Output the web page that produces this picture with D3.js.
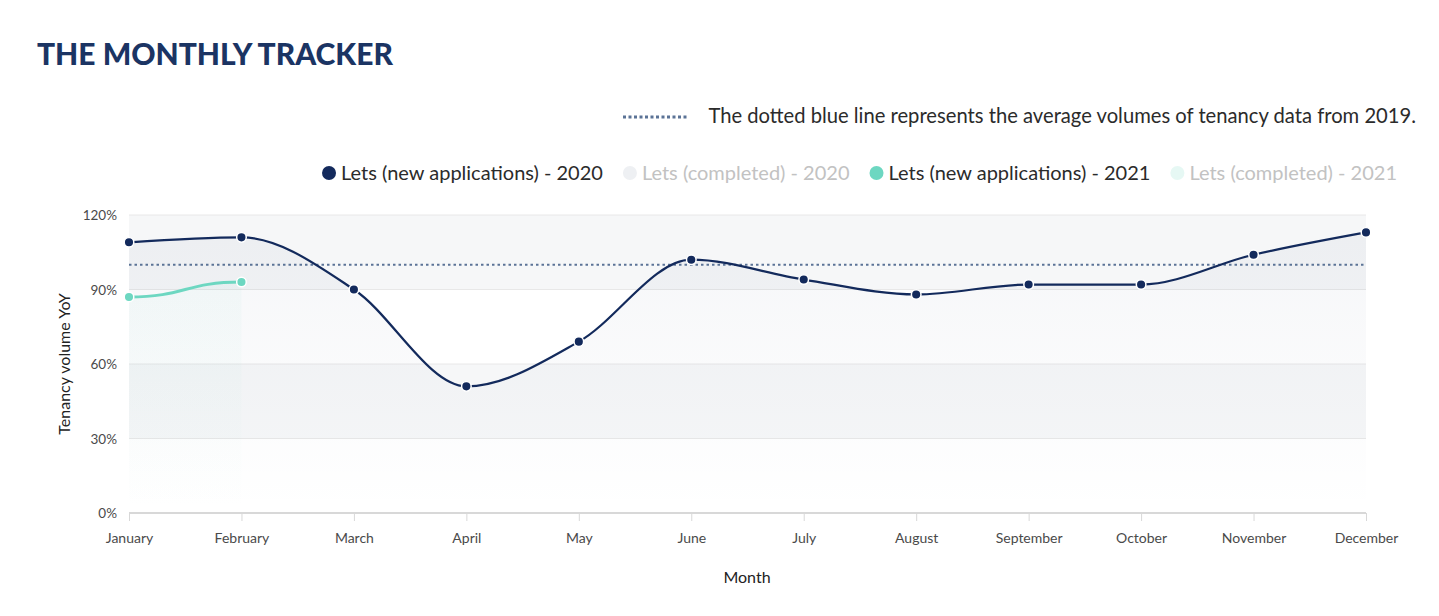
<!DOCTYPE html>
<head>
    <title>The Monthly Tracker</title>
    <script src="https://d3js.org/d3.v7.min.js" charset="utf-8"></script>
    <style>
    body{
        margin:0;
        background:#fff;
        font-family: Lato, "Open Sans", sans-serif;
    }
    text.tick-label { font-size: 14px; fill: #4a4a4a; }
    </style>
</head>
<body>
<svg id="chart" width="1439" height="616"></svg>

<script>
    // data
    var months = ["January","February","March","April","May","June","July","August","September","October","November","December"];
    var lets2020 = [109,111,90,51,69,102,94,88,92,92,104,113];
    var lets2021 = [87,93];
    var average2019 = 100;
    var yTicks = [0,30,60,90,120];
    var legendNames = ["Lets (new applications) - 2020","Lets (completed) - 2020","Lets (new applications) - 2021","Lets (completed) - 2021"];
    var legendShown = [true,false,true,false];

    var navy = "#132a5c";
    var teal = "#6dd7c1";

    var svg = d3.select("#chart");
    var plotLeft = 129, plotRight = 1366, plotTop = 215, plotBottom = 513;

    var xScale = d3.scalePoint()
        .domain(months)
        .range([plotLeft,plotRight]);

    var yScale = d3.scaleLinear()
        .domain([0,120])
        .range([plotBottom,plotTop]);

    // title
    svg.append("text")
        .attr("x",37).attr("y",65)
        .style("font-size","30px").style("font-weight","900")
        .style("fill","#1b3463")
        .text("THE MONTHLY TRACKER");

    // alternate bands
    for(var i=0;i<yTicks.length-1;i++){
        if(i%2==1){
            svg.append("rect")
            .attr("x",plotLeft).attr("width",plotRight-plotLeft)
            .attr("y",yScale(yTicks[i+1]))
            .attr("height",yScale(yTicks[i])-yScale(yTicks[i+1]))
            .style("fill","#f6f7f8");
        }
    }

    // grid
    yTicks.forEach(function(t){
        if(t==0) return;
        svg.append("line")
        .attr("x1",plotLeft).attr("x2",plotRight)
        .attr("y1",yScale(t)).attr("y2",yScale(t))
        .style("stroke","#e8e8e8").style("stroke-width",1);
    });

    // gradients for areas
    var defs = svg.append("defs");
    function grad(id,color,op){
        var g = defs.append("linearGradient").attr("id",id)
            .attr("x1",0).attr("y1",0).attr("x2",0).attr("y2",1);
        g.append("stop").attr("offset","0%").attr("stop-color",color).attr("stop-opacity",op);
        g.append("stop").attr("offset","100%").attr("stop-color",color).attr("stop-opacity",0);
    }
    grad("g2020",navy,0.04);
    grad("g2021",teal,0.05);

    var area = d3.area()
        .x(function(d,i){return xScale(months[i]);})
        .y0(yScale(0))
        .y1(function(d){return yScale(d);})
        .curve(d3.curveMonotoneX);

    var line = d3.line()
        .x(function(d,i){return xScale(months[i]);})
        .y(function(d){return yScale(d);})
        .curve(d3.curveMonotoneX);

    // two points only: use bump curve for a soft S shape
    var line2021 = d3.line()
        .x(function(d,i){return xScale(months[i]);})
        .y(function(d){return yScale(d);})
        .curve(d3.curveBumpX);
    var area2021 = d3.area()
        .x(function(d,i){return xScale(months[i]);})
        .y0(yScale(0))
        .y1(function(d){return yScale(d);})
        .curve(d3.curveBumpX);

    svg.append("path").datum(lets2021).attr("d",area2021).style("fill","url(#g2021)");
    svg.append("path").datum(lets2020).attr("d",area).style("fill","url(#g2020)");

    // y axis labels
    var yaxis = svg.append("g");
    yTicks.forEach(function(t){
        yaxis.append("text").attr("class","tick-label")
        .attr("x",117).attr("y",yScale(t)+5)
        .attr("text-anchor","end")
        .style("font-size","13.5px")
        .text(t+"%");
    });

    // x axis
    var xaxis = d3.axisBottom(xScale).tickSize(8).tickPadding(12);
    var gx = svg.append("g")
        .attr("transform","translate(0,"+plotBottom+")")
        .call(xaxis);
    gx.select(".domain").style("stroke","#d8d8d8").style("stroke-width",2)
        .attr("d","M"+plotLeft+",0H"+plotRight);
    gx.selectAll(".tick line").style("stroke","#d8d8d8");
    gx.selectAll(".tick text").attr("class","tick-label")
        .style("font-family","Lato, sans-serif").style("font-size","14px").style("fill","#4a4a4a");

    // axis titles
    svg.append("text")
        .attr("transform","translate(70,"+((plotTop+plotBottom)/2)+") rotate(-90)")
        .attr("text-anchor","middle")
        .style("font-size","16px").style("fill","#222")
        .text("Tenancy volume YoY");
    svg.append("text")
        .attr("x",747).attr("y",583)
        .attr("text-anchor","middle")
        .style("font-size","16px").style("fill","#222")
        .text("Month");

    // 2019 average dotted line
    svg.append("line")
        .attr("x1",plotLeft).attr("x2",plotRight)
        .attr("y1",yScale(average2019)).attr("y2",yScale(average2019))
        .style("stroke","#5b7396").style("stroke-width",2)
        .style("stroke-dasharray","2.5,3");

    // lines
    svg.append("path").datum(lets2021).attr("d",line2021)
        .style("fill","none").style("stroke",teal).style("stroke-width",3);
    svg.append("path").datum(lets2020).attr("d",line)
        .style("fill","none").style("stroke",navy).style("stroke-width",2.2);

    function dots(data,color){
        svg.selectAll(null).data(data).enter().append("circle")
        .attr("cx",function(d,i){return xScale(months[i]);})
        .attr("cy",function(d){return yScale(d);})
        .attr("r",4.8)
        .style("fill",color).style("stroke","#fff").style("stroke-width",1.5);
    }
    dots(lets2021,teal);
    dots(lets2020,navy);

    // dotted line note
    svg.append("line")
        .attr("x1",623).attr("x2",689).attr("y1",117).attr("y2",117)
        .style("stroke","#5b7396").style("stroke-width",3)
        .style("stroke-dasharray","3,2.5");
    svg.append("text")
        .attr("x",1416).attr("y",123)
        .attr("text-anchor","end")
        .style("font-size","20.2px").style("fill","#2b2b2b")
        .text("The dotted blue line represents the average volumes of tenancy data from 2019.");

    // legend, right aligned at 1397
    var markColors = [navy,"#eef0f3",teal,"#e6f8f4"];
    var lg = svg.append("g");
    var xpos = 0;
    legendNames.forEach(function(name,i){
        lg.append("circle").attr("cx",xpos+6).attr("cy",173).attr("r",7)
        .style("fill",markColors[i]);
        var t = lg.append("text").attr("x",xpos+18).attr("y",180)
        .style("font-size","20px")
        .style("fill",legendShown[i] ? "#2b2b2b" : "#c2c2c2")
        .text(name);
        xpos += 18 + t.node().getComputedTextLength() + 21;
    });
    lg.attr("transform","translate("+(1397-(xpos-21))+",0)");
</script>
</body>
